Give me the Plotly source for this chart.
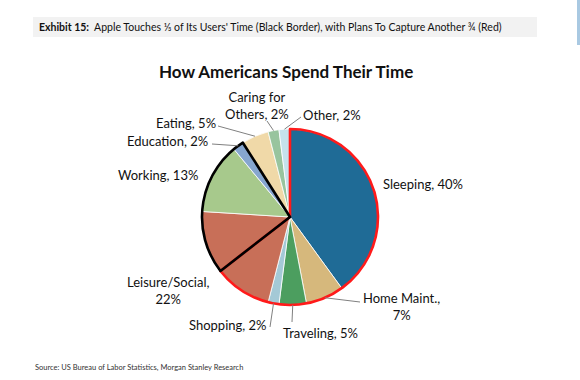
import math
import plotly.graph_objects as go

# ---------------- data ----------------
categories = ["Sleeping", "Home Maint.", "Traveling", "Shopping", "Leisure/Social",
              "Working", "Education", "Eating", "Caring for Others", "Other"]
shares = [40, 7, 5, 2, 22, 13, 2, 5, 2, 2]
label_texts = ["Sleeping, 40%", "Home Maint.,<br>7%", "Traveling, 5%", "Shopping, 2%",
               "Leisure/Social,<br>22%", "Working, 13%", "Education, 2%", "Eating, 5%",
               "Caring for<br>Others, 2%", "Other, 2%"]
# Leisure/Social is split between the red-bordered and black-bordered groups
leisure_in_red = 10.5
red_group = ["Sleeping", "Home Maint.", "Traveling", "Shopping"]
black_group = ["Working", "Education"]

# ---------------- style ----------------
W, H = 580, 380
CX, CY, R = 290, 217, 88          # pie centre / radius in pixels
colors = ["#1f6b96", "#d6b87c", "#4c9e5f", "#a4c9d6", "#c86f58",
          "#a7c98c", "#86a6cf", "#f0d9a8", "#98c49e", "#c5e2ec"]
FONT = "Lato, 'Open Sans', sans-serif"
# label centre position (pixels) and leader-line end (pixels, or None)
label_pos = {
    "Sleeping": ((423, 184), None),
    "Home Maint.": ((401, 306), (360, 302)),
    "Traveling": ((320, 333), (292, 322)),
    "Shopping": ((228, 325), (270, 327)),
    "Leisure/Social": ((168, 290), None),
    "Working": ((158, 175), None),
    "Education": ((167, 141), (212, 144)),
    "Eating": ((186, 123), (218, 126)),
    "Caring for Others": ((257, 106), (267, 121)),
    "Other": ((332, 115), (301, 117)),
}


def px(x):
    return x / W


def py(y):
    return 1 - y / H


dom_x = [px(CX - R), px(CX + R)]
dom_y = [py(CY + R), py(CY - R)]

fig = go.Figure()
fig.add_trace(go.Pie(
    labels=categories, values=shares, sort=False, direction="clockwise", rotation=0,
    marker=dict(colors=colors, line=dict(color="white", width=0.8)),
    textinfo="none", hoverinfo="skip", showlegend=False,
    domain=dict(x=dom_x, y=dom_y),
))

# border groups overlay
red_total = sum(s for c, s in zip(categories, shares) if c in red_group) + leisure_in_red
leis = shares[categories.index("Leisure/Social")]
black_total = sum(s for c, s in zip(categories, shares) if c in black_group) + (leis - leisure_in_red)
rest_total = sum(shares) - red_total - black_total
fig.add_trace(go.Pie(
    labels=["g_red", "g_black", "g_rest"], values=[red_total, black_total, rest_total],
    sort=False, direction="clockwise", rotation=0,
    marker=dict(colors=["rgba(0,0,0,0)"] * 3,
                line=dict(color=["#ff1a1a", "#000000", "rgba(0,0,0,0)"], width=[2.6, 2.6, 0])),
    textinfo="none", hoverinfo="skip", showlegend=False,
    domain=dict(x=dom_x, y=dom_y),
))

annotations = []
shapes = []
total = sum(shares)
cum = 0
for cat, s, txt in zip(categories, shares, label_texts):
    mid = (cum + s / 2) / total * 2 * math.pi
    cum += s
    tipx = CX + R * math.sin(mid)
    tipy = CY - R * math.cos(mid)
    (lx, ly), lend = label_pos[cat]
    annotations.append(dict(x=px(lx), y=py(ly), xref="paper", yref="paper", text=txt,
                            showarrow=False, xanchor="center", yanchor="middle",
                            font=dict(family=FONT, size=13, color="#111111")))
    if lend is not None:
        shapes.append(dict(type="line", xref="paper", yref="paper",
                           x0=px(tipx), y0=py(tipy), x1=px(lend[0]), y1=py(lend[1]),
                           line=dict(color="#808080", width=1)))

# header band
shapes.append(dict(type="rect", xref="paper", yref="paper", x0=px(33), x1=px(537),
                   y0=py(37), y1=py(17), fillcolor="#f2f2f2", line=dict(width=0), layer="below"))
shapes.append(dict(type="rect", xref="paper", yref="paper", x0=px(577), x1=px(580),
                   y0=py(45), y1=py(0), fillcolor="#a9c9e2", line=dict(width=0), layer="below"))
annotations.append(dict(x=px(37), y=py(27), xref="paper", yref="paper", xanchor="left",
                        yanchor="middle", showarrow=False,
                        text="<b>Exhibit 15:</b>  Apple Touches \u2153 of Its Users' Time (Black Border), with Plans To Capture Another \u00be (Red)",
                        font=dict(family=FONT, size=10.5, color="#111111")))
annotations.append(dict(x=px(286), y=py(71), xref="paper", yref="paper", xanchor="center",
                        yanchor="middle", showarrow=False,
                        text="<b>How Americans Spend Their Time</b>",
                        font=dict(family=FONT, size=17, color="#111111")))
annotations.append(dict(x=px(33), y=py(367), xref="paper", yref="paper", xanchor="left",
                        yanchor="middle", showarrow=False,
                        text="Source: US Bureau of Labor Statistics, Morgan Stanley Research",
                        font=dict(family=FONT, size=7.5, color="#333333")))

fig.update_layout(width=W, height=H, margin=dict(l=0, r=0, t=0, b=0),
                  paper_bgcolor="white", plot_bgcolor="white",
                  annotations=annotations, shapes=shapes)
fig.write_html("out.html", config={"displayModeBar": False},
               post_script="document.body.style.margin='0';document.body.style.overflow='hidden';")
